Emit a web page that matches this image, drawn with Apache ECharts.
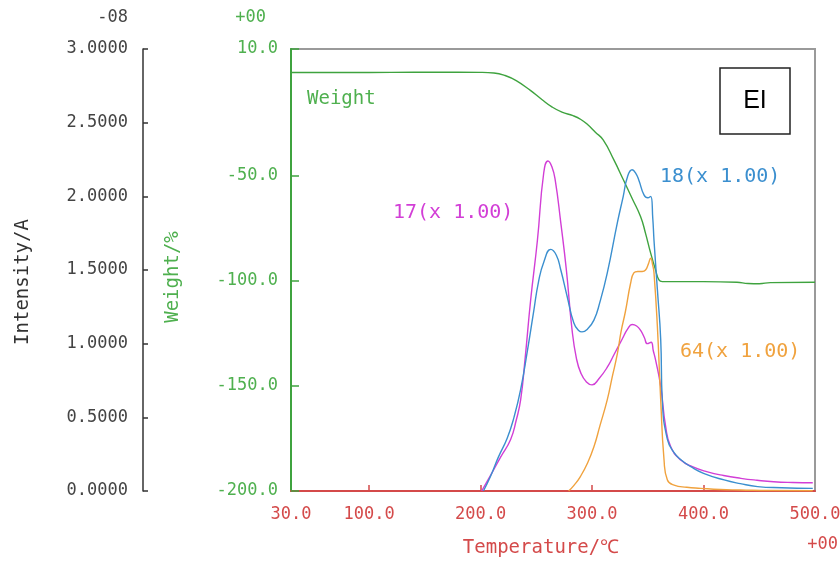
<!DOCTYPE html>
<html>
<head>
<meta charset="utf-8">
<title>TG-MS</title>
<script src="https://cdn.jsdelivr.net/npm/echarts@6/dist/echarts.min.js"></script>
<style>
  html, body { margin: 0; padding: 0; background: #fff; }
  #chart { width: 840px; height: 562px; }
</style>
</head>
<body>
<div id="chart"></div>
<script>
// ---- data (temperature in C, intensity in 1e-8 A, weight in %) ----
var xLabels = [30, 100, 200, 300, 400, 500];
var xTicks = [100, 200, 300, 400];
var weightTicks = [10, -50, -100, -150, -200];

var weightData = [
  [30, -1.2], [80, -1.2], [120, -1.1], [160, -1.0], [200, -1.1], [212, -1.4],
  [222, -2.6], [232, -5], [245, -9.8], [255, -14], [264, -17.5], [273, -20],
  [283, -21.7], [290, -23.5], [296, -25.9], [303, -29.5], [310, -33.2],
  [319.6, -42.7], [328, -52], [336, -61], [343.6, -69.7], [348, -77.6],
  [352.6, -87], [357, -95], [360, -99.7], [363, -100.5], [400, -100.5],
  [430, -100.8], [440, -101.4], [450, -101.5], [460, -101.0], [500, -100.8]
];

// m/z 17
var ion17 = [
  [201, 0], [210, 0.12], [218, 0.23], [227, 0.35], [232, 0.48], [236, 0.62],
  [240, 0.9], [245, 1.3], [251, 1.7], [256.7, 2.16], [260.5, 2.24], [264, 2.2],
  [267, 2.11], [272, 1.82], [277, 1.5], [282, 1.1], [286, 0.9], [290, 0.8],
  [295, 0.74], [300, 0.72], [306, 0.76], [313.7, 0.84], [320, 0.93],
  [327, 1.03], [332, 1.1], [336, 1.13], [340, 1.12], [343.6, 1.09],
  [347, 1.04], [349.6, 1.0], [353, 1.01], [355, 0.95], [357, 0.89],
  [361.6, 0.71], [366, 0.44], [370.6, 0.30], [379.6, 0.21], [390, 0.165],
  [403.6, 0.13], [418, 0.105], [433.5, 0.086], [448, 0.073], [463, 0.063],
  [480, 0.058], [498, 0.056]
];

// m/z 18
var ion18 = [
  [202.6, 0], [209, 0.1], [216, 0.23], [224, 0.36], [230, 0.5], [236, 0.69],
  [242, 0.95], [247.5, 1.21], [252, 1.42], [257, 1.56], [263, 1.64],
  [268, 1.6], [272, 1.5], [277.7, 1.32], [283.7, 1.14], [288, 1.09],
  [291, 1.08], [296, 1.1], [301.7, 1.16], [307, 1.28], [313.7, 1.48],
  [322.7, 1.82], [328, 2.0], [331.7, 2.13], [336, 2.18], [339, 2.16],
  [342, 2.11], [346.6, 2.01], [350, 1.99], [352.6, 2.0], [354.5, 1.85],
  [355.6, 1.7], [358.6, 1.37], [361.6, 1.03], [363, 0.62], [367.6, 0.35],
  [373.6, 0.26], [380, 0.21], [388.6, 0.165], [400, 0.12], [418.5, 0.075],
  [433, 0.05], [448.5, 0.03], [470, 0.022], [498, 0.018]
];

// m/z 64
var ion64 = [
  [279, 0], [284, 0.04], [289.7, 0.1], [296, 0.19], [301.7, 0.3], [307, 0.44],
  [313.7, 0.62], [318, 0.77], [322.7, 0.93], [326, 1.08], [330, 1.22],
  [334.6, 1.41], [337.5, 1.48], [341, 1.49], [345, 1.49], [348, 1.5],
  [350.5, 1.54], [352.6, 1.58], [354.5, 1.53], [355.6, 1.48], [358.6, 1.12],
  [361.6, 0.62], [364.6, 0.21], [367.6, 0.075], [373.6, 0.04], [385, 0.025],
  [397.5, 0.018], [415, 0.01], [433, 0.007], [460, 0.003], [498, 0.002]
];

var mono = "'DejaVu Sans Mono', 'Liberation Mono', monospace";
var red = '#d44a4a';
var green = '#3fa33f';
var greenText = '#4fb04f';
var c17 = '#d23ed6';
var c18 = '#3b8fcf';
var c64 = '#f0a23e';

var chart = echarts.init(document.getElementById('chart'));

function line(name, data, color, yIdx) {
  return {
    name: name,
    type: 'line',
    data: data,
    yAxisIndex: yIdx,
    showSymbol: false,
    smooth: 0.5,
    lineStyle: { color: color, width: 1.4 },
    itemStyle: { color: color },
    z: 3
  };
}

var option = {
  animation: false,
  backgroundColor: '#ffffff',
  grid: {
    left: 291, right: 25, top: 49, bottom: 71,
    outerBoundsMode: 'none',
    containLabel: false,
    show: true,
    borderColor: '#9a9a9a',
    borderWidth: 2
  },
  xAxis: {
    type: 'value',
    min: 30, max: 500,
    axisLine: { onZero: false, lineStyle: { color: red, width: 2 } },
    axisTick: { inside: true, length: 6, customValues: xTicks, lineStyle: { color: red, width: 1.5 } },
    axisLabel: {
      customValues: xLabels,
      formatter: function (v) { return v.toFixed(1); },
      color: red, fontFamily: mono, fontSize: 17, margin: 15
    },
    splitLine: { show: false }
  },
  yAxis: [
    {
      // weight
      type: 'value',
      position: 'left',
      min: -200, max: 10,
      axisLine: { show: true, onZero: false, lineStyle: { color: green, width: 2 } },
      axisTick: { show: true, inside: true, length: 8, customValues: weightTicks, lineStyle: { color: green, width: 1.5 } },
      axisLabel: {
        customValues: weightTicks,
        formatter: function (v) { return v.toFixed(1); },
        color: greenText, fontFamily: mono, fontSize: 17, margin: 13
      },
      splitLine: { show: false }
    },
    {
      // intensity (x 1e-8)
      type: 'value',
      position: 'left',
      offset: 148,
      min: 0, max: 3, interval: 0.5,
      axisLine: { show: true, onZero: false, lineStyle: { color: '#333', width: 1.5 } },
      axisTick: { show: true, inside: true, length: 5, lineStyle: { color: '#333', width: 1.5 } },
      axisLabel: {
        formatter: function (v) { return v.toFixed(4); },
        color: '#444', fontFamily: mono, fontSize: 17, margin: 15
      },
      splitLine: { show: false }
    }
  ],
  series: [
    line('Weight', weightData, green, 0),
    line('17', ion17, c17, 1),
    line('18', ion18, c18, 1),
    line('64', ion64, c64, 1)
  ],
  graphic: [
    { type: 'text', x: 128, y: 18, style: { text: '-08', fill: '#444', font: '17px ' + mono, textAlign: 'right', textVerticalAlign: 'middle' } },
    { type: 'text', x: 266, y: 18, style: { text: '+00', fill: greenText, font: '17px ' + mono, textAlign: 'right', textVerticalAlign: 'middle' } },
    { type: 'text', x: 838, y: 545, style: { text: '+00', fill: red, font: '17px ' + mono, textAlign: 'right', textVerticalAlign: 'middle' } },
    { type: 'text', x: 541, y: 548, style: { text: 'Temperature/℃', fill: red, font: '19px ' + mono, textAlign: 'center', textVerticalAlign: 'middle' } },
    { type: 'text', x: 23, y: 282, rotation: Math.PI / 2, style: { text: 'Intensity/A', fill: '#333', font: '19px ' + mono, textAlign: 'center', textVerticalAlign: 'middle' } },
    { type: 'text', x: 173, y: 277, rotation: Math.PI / 2, style: { text: 'Weight/%', fill: greenText, font: '19px ' + mono, textAlign: 'center', textVerticalAlign: 'middle' } },
    { type: 'text', x: 307, y: 99, style: { text: 'Weight', fill: greenText, font: '19px ' + mono, textAlign: 'left', textVerticalAlign: 'middle' } },
    { type: 'text', x: 393, y: 213, style: { text: '17(x 1.00)', fill: c17, font: '20px ' + mono, textAlign: 'left', textVerticalAlign: 'middle' } },
    { type: 'text', x: 660, y: 177, style: { text: '18(x 1.00)', fill: c18, font: '20px ' + mono, textAlign: 'left', textVerticalAlign: 'middle' } },
    { type: 'text', x: 680, y: 352, style: { text: '64(x 1.00)', fill: c64, font: '20px ' + mono, textAlign: 'left', textVerticalAlign: 'middle' } },
    // EI box
    { type: 'rect', shape: { x: 720, y: 68, width: 70, height: 66 }, style: { fill: '#fff', stroke: '#222', lineWidth: 1.5 }, z: 10 },
    { type: 'text', x: 755, y: 101, z: 11, style: { text: 'EI', fill: '#000', font: '25px "Liberation Sans", Arial, sans-serif', textAlign: 'center', textVerticalAlign: 'middle' } }
  ]
};

chart.setOption(option);
</script>
</body>
</html>
